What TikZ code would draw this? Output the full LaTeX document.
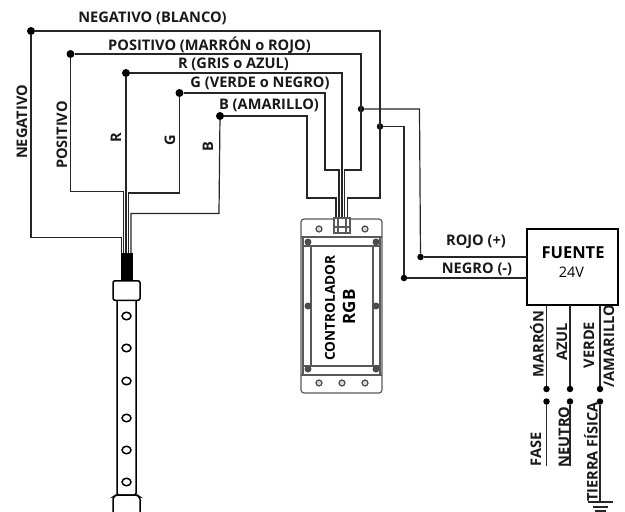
\documentclass[tikz,border=0pt]{standalone}
\usepackage{fontspec}
\usetikzlibrary{shapes.geometric}
\setmainfont{Open Sans}
\begin{document}
\begin{tikzpicture}[x=1pt,y=-1pt,
  wire/.style={draw=black!85,line width=1.2pt},
  dotmark/.style={circle,fill=black,inner sep=0pt,minimum size=8pt},
  smalldot/.style={circle,fill=black,inner sep=0pt,minimum size=6.5pt},
  lab/.style={font=\bfseries\fontsize{14.6}{14.6}\selectfont,inner sep=0pt,text=black!90},
  vlab/.style={lab,rotate=90},
  holemark/.style={draw=black,line width=1.5pt,fill=white,ellipse,minimum width=9pt,minimum height=7.5pt,inner sep=0pt},
  capbox/.style={draw=black,line width=1.5pt,fill=white,rounded corners=2pt},
  stud/.style={draw=black!70,line width=1.2pt,circle,fill=black!15,inner sep=0pt,minimum size=6pt},
  screw/.style={circle,fill=black!70,inner sep=0pt,minimum size=7pt},
  casing/.style={draw=black!65,line width=1.2pt},
]
\useasboundingbox (0,0) rectangle (625,512);
% end dots
\node[dotmark] (nL) at (31,31) {};
\node[dotmark] (pL) at (70.5,54) {};
\node[dotmark] (rL) at (126,73) {};
\node[dotmark] (gL) at (179.5,93) {};
\node[dotmark] (bL) at (220,116) {};
\node[smalldot] (nJ) at (380,126.5) {};
\node[smalldot] (pJ) at (361,109) {};
\node[smalldot] (nF) at (404,278) {};
\node[smalldot] (pF) at (420.5,257) {};
% terminals at strip and controller
\coordinate (sN) at (121.5,253);
\coordinate (sP) at (123.7,253);
\coordinate (sR) at (126,253);
\coordinate (sG) at (128.5,253);
\coordinate (sB) at (131,253);
\coordinate (cB) at (336,218);
\coordinate (cG) at (339,218);
\coordinate (cR) at (342,218);
\coordinate (cP) at (344.7,218);
\coordinate (cN) at (347.7,218);
% fuente
\node[draw=black,line width=1.4pt,minimum width=91pt,minimum height=76pt,inner sep=0pt] (fu) at (572.5,267) {};
\node[font=\bfseries\fontsize{16.5}{16.5}\selectfont,inner sep=0pt] (fuT) at (573,253) {FUENTE};
\node[font=\fontsize{14.5}{14.5}\selectfont,inner sep=0pt] (fuV) at (571.5,272) {24V};
% wires
\draw[wire] (nL) -- (380,31) -- (380,198) -- (347.7,198) -- (cN);
\draw[wire] (pL) -- (361,54) -- (361,170) -- (344.7,170) -- (cP);
\draw[wire] (rL) -- (342,73) -- (cR);
\draw[wire] (gL) -- (325,93) -- (325,170) -- (339,170) -- (cG);
\draw[wire] (bL) -- (307,116) -- (307,198) -- (336,198) -- (cB);
\draw[wire] (nL) -- (31,237.5) -- (121.5,237.5) -- (sN);
\draw[wire] (pL) -- (70.5,191.5) -- (123.7,191.5) -- (sP);
\draw[wire] (rL) -- (sR);
\draw[wire] (gL) -- (179.5,193) -- (128.5,193) -- (sG);
\draw[wire] (bL) -- (219,213.5) -- (131,213.5) -- (sB);
\draw[wire] (pJ) -- (419.5,109) -- (pF);
\draw[wire] (nJ) -- (404,126.5) -- (nF);
\draw[wire] (pF) -- (527,257);
\draw[wire] (nF) -- (527,278);
% LED strip
\fill[black] (121,253) rectangle (133,281);
\draw[capbox] (117,296) rectangle (136,495);
\node[capbox,minimum width=27pt,minimum height=19.5pt,inner sep=0pt] (cap1) at (126.5,290.5) {};
\draw[capbox] (113,512) -- (113,497) -- (116,495) -- (137,495) -- (140,497) -- (140,512);
\foreach \y/\n in {316/a,348/b,381/c,418/d,450/e,482/f}
  \node[holemark] (h\n) at (126.5,\y) {};
% controller
\draw[casing,rounded corners=3pt] (301,219) rectangle (382,393);
\draw[casing] (301,237) -- (382,237);
\draw[casing] (301,375) -- (382,375);
\draw[casing] (303,237) -- (303,375);
\draw[casing] (380,237) -- (380,375);
\draw[casing] (303,246) -- (380,246);
\draw[casing] (303,366) -- (380,366);
\draw[casing] (311,246) rectangle (373,366);
\draw[casing,fill=white] (334,218) rectangle (350,233);
\draw[casing] (338,218) -- (338,233) (346,218) -- (346,233) (334,227) -- (350,227);
\foreach \x/\y in {308/242,376/242,308/306,376/306,308/369,376/369}
  \node[screw] at (\x,\y) {};
\foreach \x/\y in {319/229,365/229,319/383,342/383,365/383}
  \node[stud] at (\x,\y) {};
\node[font=\bfseries\fontsize{13.6}{13.6}\selectfont,rotate=90,inner sep=0pt] (ctl) at (330,308) {CONTROLADOR};
\node[font=\bfseries\fontsize{17}{17}\selectfont,rotate=90,inner sep=0pt] (rgb) at (349,307) {RGB};
% fuente outputs
\node[smalldot] (o1) at (546.5,389) {};
\node[smalldot] (o2) at (570,389) {};
\node[smalldot] (o3) at (600,389) {};
\node[smalldot] (i1) at (546.5,401.5) {};
\node[smalldot] (i2) at (570,401.5) {};
\node[smalldot] (i3) at (600,401.5) {};
\coordinate (e1) at (546.5,466);
\coordinate (e2) at (570,466);
\coordinate (e3) at (600,502);
\draw[wire] (o1) -- (546.5,305);
\draw[wire] (o2) -- (570,305);
\draw[wire] (o3) -- (600,305);
\draw[wire] (i1) -- (e1);
\draw[wire] (i2) -- (e2);
\draw[wire] (i3) -- (e3);
\draw[wire] (588,502) -- (613,502);
\draw[wire] (593,507) -- (608,507);
\draw[wire] (595,511) -- (606,511);
% labels
\node[lab] (t1) at (152.5,18) {NEGATIVO (BLANCO)};
\node[lab] (t2) at (209.5,45) {POSITIVO (MARRÓN o ROJO)};
\node[lab] (t3) at (233.5,64) {R (GRIS o AZUL)};
\node[lab] (t4) at (260,83) {G (VERDE o NEGRO)};
\node[lab] (t5) at (269,105) {B (AMARILLO)};
\node[vlab] (v1) at (22,122) {NEGATIVO};
\node[vlab] (v2) at (62,135) {POSITIVO};
\node[vlab] (v3) at (116,138) {R};
\node[vlab] (v4) at (170,140) {G};
\node[vlab] (v5) at (208,147) {B};
\node[lab] (t6) at (476,242) {ROJO (+)};
\node[lab] (t7) at (477,269) {NEGRO (-)};
\node[vlab] (w1) at (537,344) {MARRÓN};
\node[vlab] (w2) at (562,342) {AZUL};
\node[vlab] (w3) at (589,345) {VERDE};
\node[vlab] (w4) at (609,346) {/AMARILLO};
\node[vlab] (w5) at (536,449) {FASE};
\node[vlab] (w6) at (564,437) {NEUTRO};
\node[vlab] (w7) at (591,452) {TIERRA FÍSICA};
\end{tikzpicture}
\end{document}
